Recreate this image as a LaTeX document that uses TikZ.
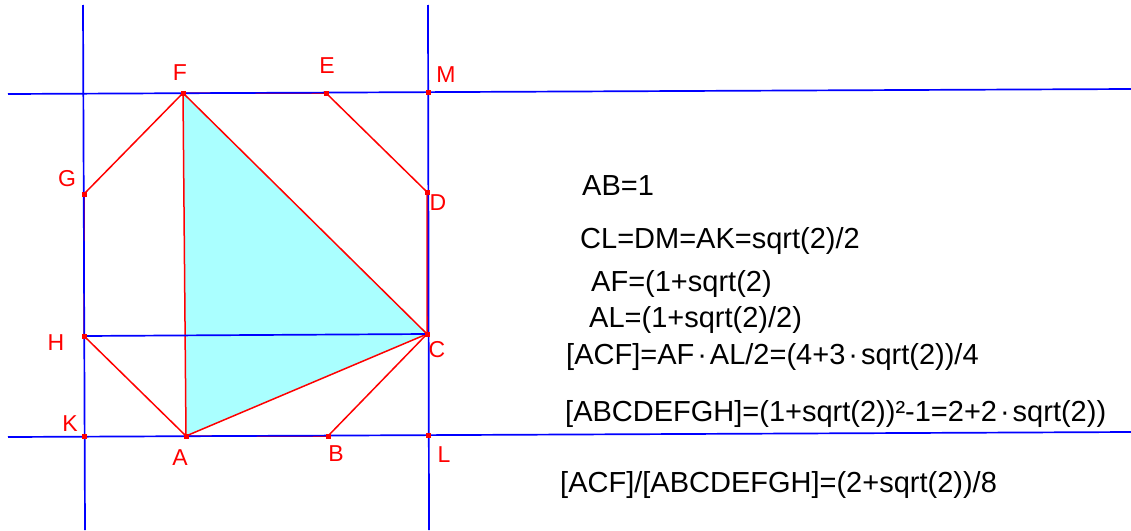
\documentclass[tikz,border=0pt]{standalone}
\usepackage{fontspec}
\setmainfont{Liberation Sans}
\usepackage{xcolor}
\definecolor{geoblue}{HTML}{0000FF}
\definecolor{geored}{HTML}{FF0000}
\definecolor{geocyan}{HTML}{AAFFFF}
\usetikzlibrary{positioning}
\newcommand{\mdot}{\hspace{3pt}·\hspace{3pt}}
\tikzset{
  guide/.style={draw=geoblue,line width=1.7pt},
  side/.style={draw=geored,line width=1.5pt},
  tri/.style={fill=geocyan},
  pt/.style={rectangle,fill=geored,minimum size=5pt,inner sep=0pt},
  lbl/.style={text=geored,font=\fontsize{23}{23}\selectfont,inner sep=0pt},
  eq/.style={anchor=base west,font=\fontsize{29}{29}\selectfont,inner sep=0pt},
}

\begin{document}
\begin{tikzpicture}[x=1pt,y=-1pt]
  \useasboundingbox[fill=white] (0,0) rectangle (1131,530);
  % octagon vertices and construction points
  \coordinate (A) at (186,436);
  \coordinate (B) at (328,436);
  \coordinate (C) at (427,334);
  \coordinate (D) at (427,192);
  \coordinate (E) at (326,93);
  \coordinate (F) at (183,93);
  \coordinate (G) at (84,194);
  \coordinate (H) at (84,336);
  \coordinate (K) at (84,436);
  \coordinate (L) at (428,435);
  \coordinate (M) at (428,92);
  % free ends of the guide lines
  \coordinate (lt) at (83,5);   \coordinate (lb) at (85,530);
  \coordinate (rt) at (428,5);  \coordinate (rb) at (429,530);
  \coordinate (tl) at (8,94);   \coordinate (tr) at (1131,89);
  \coordinate (bl) at (8,437);  \coordinate (br) at (1131,432);

  \fill[tri] (A) -- (C) -- (F) -- cycle;
  \draw[side] (A) -- (B) -- (C) -- (D) -- (E) -- (F) -- (G) -- (H) -- cycle;
  \draw[side] (A) -- (F) (A) -- (C) -- (F);

  \draw[guide] (lt) -- (lb);
  \draw[guide] (rt) -- (rb);
  \draw[guide] (tl) -- (tr);
  \draw[guide] (bl) -- (br);
  \draw[guide] (H) -- (C);

  \foreach \p in {A,B,C,D,E,F,G,H,K,L,M}
    \node[pt] at (\p) {};

  \node[lbl] (lA) at (180,458) {A};
  \node[lbl] (lB) at (336,454) {B};
  \node[lbl] (lC) at (437,350) {C};
  \node[lbl] (lD) at (438,203) {D};
  \node[lbl] (lE) at (327,66) {E};
  \node[lbl] (lF) at (180,73) {F};
  \node[lbl] (lG) at (67,179) {G};
  \node[lbl] (lH) at (56,343) {H};
  \node[lbl] (lK) at (70,424) {K};
  \node[lbl] (lL) at (444,455) {L};
  \node[lbl] (lM) at (446,75) {M};

  % computations
  \node[eq] (ab) at (582,195) {AB=1};
  \node[eq] (cl) at (580,248) {CL=DM=AK=sqrt(2)/2};
  \node[eq] (af) at (591,291) {AF=(1+sqrt(2)};
  \node[eq] (al) at (589,327) {AL=(1+sqrt(2)/2)};
  \node[eq] (acf) at (566,364) {[ACF]=AF\mdot AL/2=(4+3\mdot sqrt(2))/4};
  \node[eq] (oct) at (565,421) {[ABCDEFGH]=(1+sqrt(2))²-1=2+2\mdot sqrt(2))};
  \node[eq] (rat) at (560,492) {[ACF]/[ABCDEFGH]=(2+sqrt(2))/8};
\end{tikzpicture}
\end{document}
